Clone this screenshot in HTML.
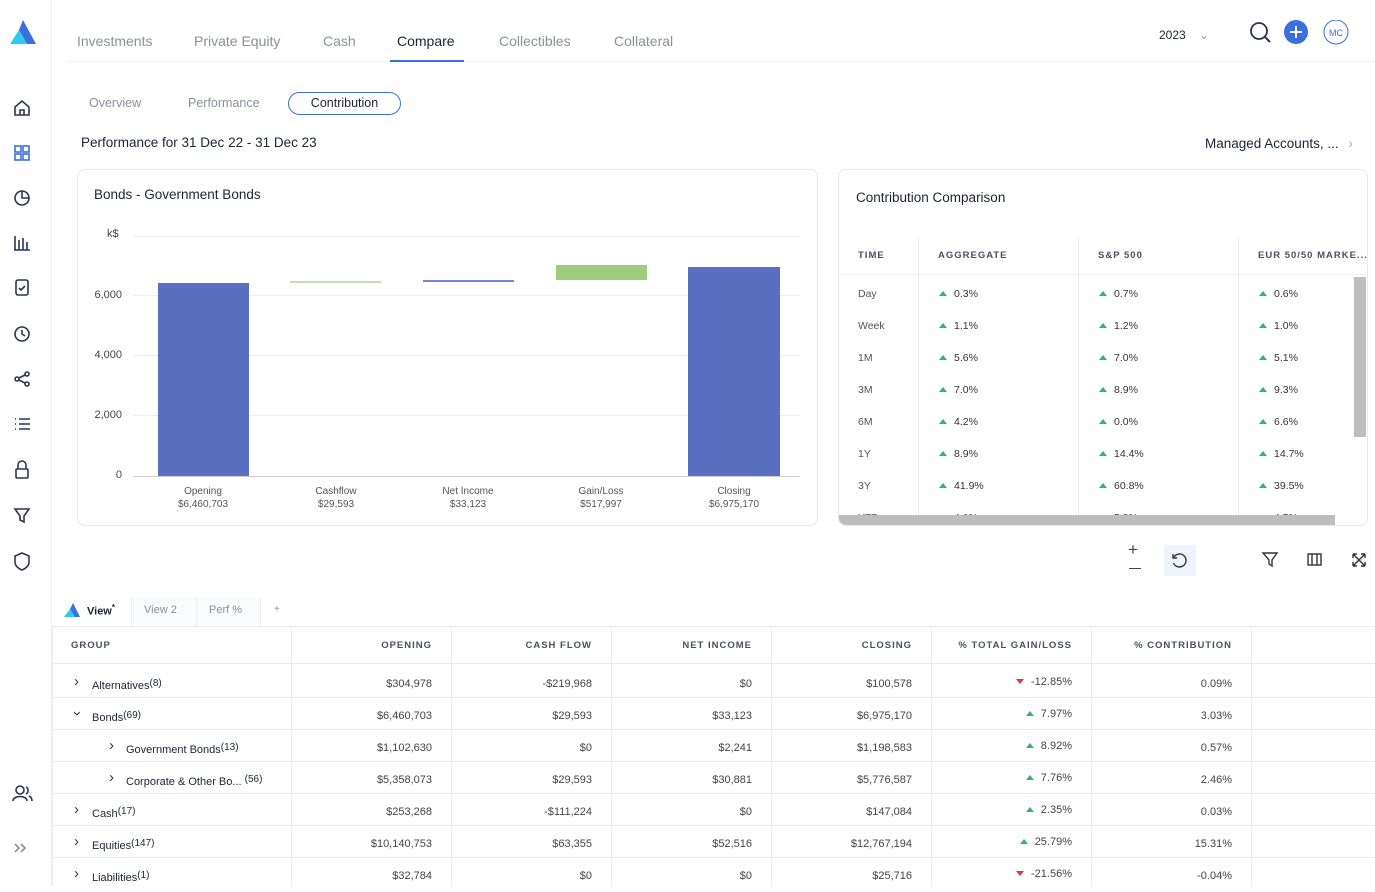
<!DOCTYPE html>
<html><head><meta charset="utf-8"><style>
*{box-sizing:border-box;margin:0;padding:0}
body{width:1375px;height:886px;overflow:hidden;background:#fff;font-family:"Liberation Sans",sans-serif;color:#1c2433;position:relative}
.a{position:absolute;white-space:nowrap}
.tab{font-size:14px;color:#8a8f99;top:33px}
.card{position:absolute;border:1px solid #e6e8ec;border-radius:8px;background:#fff}
.yl{font-size:11px;color:#444;text-align:right;width:40px;left:82px}
.gl{position:absolute;left:133px;width:667px;height:1px;background:#eceef1}
.xl{font-size:10px;color:#555;text-align:center;width:120px;line-height:13px}
.th{font-size:9.5px;font-weight:bold;letter-spacing:1px;color:#4a5060}
.td{font-size:10.5px;color:#333}
.up{display:inline-block;width:0;height:0;border-left:4px solid transparent;border-right:4px solid transparent;border-bottom:5px solid #2dbb6a;margin-right:7px;vertical-align:1px}
.dn{display:inline-block;width:0;height:0;border-left:4px solid transparent;border-right:4px solid transparent;border-top:5px solid #e0383e;margin-right:7px;vertical-align:1px}
.row{position:absolute;left:52px;width:1323px;height:1px;background:#e8eaee}
.vd{position:absolute;width:1px;background:#e8eaee}
.num{font-size:11px;color:#444;text-align:right;width:150px}
.grp{font-size:11px;color:#1c2433}
.grp small{font-size:10px;vertical-align:3px}
.chev{font-size:15px;color:#333}
</style></head><body>
<div class="a" style="left:51px;top:0;width:1px;height:886px;background:#eef0f3"></div>
<svg class="a" style="left:8px;top:18px" width="30" height="28"><polygon points="15,2 28,26 19,26 11,12" fill="#3b6fe0"/><polygon points="11,12 19,26 2,26" fill="#2ec9f0"/></svg>
<svg class="a" style="left:12px;top:98px" width="22" height="480" fill="none" stroke="#2a3550" stroke-width="1.6">
<path d="M3 9 L10 3 L17 9 V17 H3 Z M8 17 V12 H12 V17"/>
<g stroke="#3b6fe0"><rect x="3" y="48" width="6" height="6"/><rect x="11" y="48" width="6" height="6"/><rect x="3" y="56" width="6" height="6"/><rect x="11" y="56" width="6" height="6"/></g>
<circle cx="10" cy="100" r="7"/><path d="M10 93 V100 H17"/>
<path d="M3 152 V138 M7 152 V142 M11 152 V140 M15 152 V144 M2 152 H18"/>
<rect x="4" y="182" width="12" height="15" rx="2"/><path d="M7 190 L9 192 L13 188"/>
<circle cx="10" cy="236" r="7"/><path d="M10 232 V236 L13 238"/>
<circle cx="5" cy="281" r="2"/><circle cx="15" cy="276" r="2"/><circle cx="15" cy="286" r="2"/><path d="M7 280 L13 277 M7 282 L13 285"/>
<path d="M3 321 H4 M7 321 H18 M3 326 H4 M7 326 H18 M3 331 H4 M7 331 H18"/>
<rect x="4" y="371" width="12" height="9" rx="1"/><path d="M6 371 V367 A4 4 0 0 1 14 367 V371"/>
<path d="M3 411 H17 L12 418 V424 L8 422 V418 Z"/>
<path d="M10 455 L17 458 V464 C17 468 13 471 10 472 C7 471 3 468 3 464 V458 Z"/>
</svg>
<svg class="a" style="left:12px;top:784px" width="22" height="80" fill="none" stroke="#2a3550" stroke-width="1.6"><circle cx="8" cy="6" r="4"/><path d="M1 17 C1 11 15 11 15 17 M14 3 A4 4 0 0 1 14 10 M17 12 C19 13 20 15 20 17"/><path d="M3 60 L7 64 L3 68 M9 60 L13 64 L9 68" stroke="#8a8f99"/></svg>
<div class="a tab" style="left:77px">Investments</div>
<div class="a tab" style="left:194px">Private Equity</div>
<div class="a tab" style="left:323px">Cash</div>
<div class="a tab" style="left:397px;color:#1c2433">Compare</div>
<div class="a tab" style="left:499px">Collectibles</div>
<div class="a tab" style="left:614px">Collateral</div>
<div class="a" style="left:69px;top:61px;width:1310px;height:1px;background:#eef0f3"></div>
<div class="a" style="left:390px;top:60px;width:74px;height:2px;background:#3b6fe0"></div>
<div class="a" style="left:1159px;top:28px;font-size:12px">2023 <span style="color:#999;margin-left:10px">⌄</span></div>
<svg class="a" style="left:1248px;top:20px" width="110" height="28"><circle cx="11" cy="11" r="8" fill="none" stroke="#2a3550" stroke-width="1.8"/><path d="M17 17 L22 22" stroke="#2a3550" stroke-width="2"/><circle cx="48" cy="12" r="12" fill="#3b6fe0"/><path d="M48 6 V18 M42 12 H54" stroke="#fff" stroke-width="2"/><circle cx="88" cy="12" r="12" fill="#fff" stroke="#3b6fe0"/><text x="88" y="16" font-size="9" fill="#3b6fe0" text-anchor="middle" font-family="Liberation Sans">MC</text></svg>
<div class="a" style="left:89px;top:96px;font-size:12.5px;color:#8a8f99">Overview</div>
<div class="a" style="left:188px;top:96px;font-size:12.5px;color:#8a8f99">Performance</div>
<div class="a" style="left:288px;top:92px;width:113px;height:23px;border:1px solid #3b6fe0;border-radius:12px;font-size:12.5px;text-align:center;line-height:21px">Contribution</div>
<div class="a" style="left:81px;top:135px;font-size:13.5px">Performance for 31 Dec 22 - 31 Dec 23</div>
<div class="a" style="left:1205px;top:136px;font-size:13.5px">Managed Accounts, ... <span style="color:#aaa;margin-left:6px">›</span></div>
<div class="card" style="left:77px;top:169px;width:741px;height:357px"></div>
<div class="a" style="left:94px;top:187px;font-size:13.5px">Bonds - Government Bonds</div>
<div class="a" style="left:107px;top:228px;font-size:11px;color:#444">k$</div>
<div class="gl" style="top:236px"></div><div class="gl" style="top:295px"></div><div class="gl" style="top:355px"></div><div class="gl" style="top:415px"></div><div class="gl" style="top:476px;background:#ccc"></div>
<div class="a yl" style="top:289px">6,000</div><div class="a yl" style="top:349px">4,000</div><div class="a yl" style="top:409px">2,000</div><div class="a yl" style="top:469px">0</div>
<div class="a" style="left:158px;top:283px;width:91px;height:193px;background:#5a6fc0"></div>
<div class="a" style="left:290px;top:281px;width:91px;height:2px;background:#c5dfb5"></div>
<div class="a" style="left:423px;top:280px;width:91px;height:2px;background:#6f87d6"></div>
<div class="a" style="left:556px;top:265px;width:91px;height:15px;background:#9ccc7c"></div>
<div class="a" style="left:688px;top:267px;width:92px;height:209px;background:#5a6fc0"></div>
<div class="a xl" style="left:143px;top:485px">Opening<br>$6,460,703</div>
<div class="a xl" style="left:276px;top:485px">Cashflow<br>$29,593</div>
<div class="a xl" style="left:408px;top:485px">Net Income<br>$33,123</div>
<div class="a xl" style="left:541px;top:485px">Gain/Loss<br>$517,997</div>
<div class="a xl" style="left:674px;top:485px">Closing<br>$6,975,170</div>
<div class="card" style="left:838px;top:169px;width:530px;height:357px;overflow:hidden">
<div class="a" style="left:17px;top:20px;font-size:13.5px">Contribution Comparison</div>
<div class="a" style="left:0;top:104px;width:530px;height:1px;background:#eef0f3"></div>
<div class="vd" style="left:79px;top:67px;height:290px"></div><div class="vd" style="left:239px;top:67px;height:290px"></div><div class="vd" style="left:399px;top:67px;height:290px"></div>
<div class="a th" style="left:19px;top:80px">TIME</div><div class="a th" style="left:99px;top:80px">AGGREGATE</div><div class="a th" style="left:259px;top:80px">S&amp;P 500</div><div class="a th" style="left:419px;top:80px">EUR 50/50 MARKE...</div>
<div class="a td" style="left:19px;top:108px;line-height:32px;color:#555">Day<br>Week<br>1M<br>3M<br>6M<br>1Y<br>3Y<br>YTD</div>
<div class="a td" style="left:100px;top:108px;line-height:32px"><span class="up"></span>0.3%<br><span class="up"></span>1.1%<br><span class="up"></span>5.6%<br><span class="up"></span>7.0%<br><span class="up"></span>4.2%<br><span class="up"></span>8.9%<br><span class="up"></span>41.9%<br><span class="up"></span>4.1%</div>
<div class="a td" style="left:260px;top:108px;line-height:32px"><span class="up"></span>0.7%<br><span class="up"></span>1.2%<br><span class="up"></span>7.0%<br><span class="up"></span>8.9%<br><span class="up"></span>0.0%<br><span class="up"></span>14.4%<br><span class="up"></span>60.8%<br><span class="up"></span>5.0%</div>
<div class="a td" style="left:420px;top:108px;line-height:32px"><span class="up"></span>0.6%<br><span class="up"></span>1.0%<br><span class="up"></span>5.1%<br><span class="up"></span>9.3%<br><span class="up"></span>6.6%<br><span class="up"></span>14.7%<br><span class="up"></span>39.5%<br><span class="up"></span>4.5%</div>
<div class="a" style="left:515px;top:107px;width:12px;height:160px;background:#bdbdbd"></div>
<div class="a" style="left:0;top:345px;width:530px;height:12px;background:#fff"></div>
<div class="a" style="left:0;top:345px;width:496px;height:12px;background:#bdbdbd"></div>
</div>
<div class="a" style="left:1128px;top:540px;font-size:17px;color:#444">+</div>
<div class="a" style="left:1129px;top:568px;width:12px;height:1px;background:#444"></div>
<div class="a" style="left:1164px;top:545px;width:32px;height:31px;background:#eef4fb"></div>
<svg class="a" style="left:1170px;top:551px" width="20" height="20" fill="none" stroke="#333" stroke-width="1.4"><path d="M4 6 A6.5 6.5 0 1 1 3.5 12"/><path d="M3 3 V7 H7"/></svg>
<svg class="a" style="left:1260px;top:550px" width="110" height="20" fill="none" stroke="#333" stroke-width="1.4"><path d="M3 3 H17 L12 10 V16 L9 14 V10 Z"/><rect x="48" y="4" width="13" height="11"/><path d="M52 4 V15 M57 4 V15"/><path d="M93 4 L105 16 M105 4 L93 16 M93 4 H97 M93 4 V8 M105 16 H101 M105 16 V12 M105 4 H101 M105 4 V8 M93 16 H97 M93 16 V12"/></svg>
<svg class="a" style="left:64px;top:603px" width="16" height="15"><polygon points="9,0 16,14 11,14 6,6" fill="#3b6fe0"/><polygon points="6,6 11,14 0,14" fill="#2ec9f0"/></svg>
<div class="a" style="left:87px;top:603px;font-size:11px;font-weight:bold">View<sup style="font-size:8px">*</sup></div>
<div class="a" style="left:131px;top:597px;width:130px;height:29px;background:#fafbfc;border-left:1px solid #eee"></div>
<div class="a" style="left:196px;top:597px;width:1px;height:29px;background:#eee"></div>
<div class="a" style="left:260px;top:597px;width:1px;height:29px;background:#eee"></div>
<div class="a" style="left:144px;top:604px;font-size:11px;color:#8a8f99">View 2</div>
<div class="a" style="left:209px;top:604px;font-size:11px;color:#8a8f99">Perf %</div>
<div class="a" style="left:274px;top:604px;font-size:10px;color:#8a8f99">+</div>
<div class="row" style="top:626px"></div>
<div class="a" style="left:52px;top:626px;width:1px;height:260px;background:#e8eaee"></div>
<div class="row" style="top:663px"></div><div class="row" style="top:697px"></div><div class="row" style="top:729px"></div><div class="row" style="top:761px"></div><div class="row" style="top:793px"></div><div class="row" style="top:825px"></div><div class="row" style="top:857px"></div>
<div class="vd" style="left:291px;top:626px;height:260px"></div><div class="vd" style="left:451px;top:626px;height:260px"></div><div class="vd" style="left:611px;top:626px;height:260px"></div><div class="vd" style="left:771px;top:626px;height:260px"></div><div class="vd" style="left:931px;top:626px;height:260px"></div><div class="vd" style="left:1091px;top:626px;height:260px"></div><div class="vd" style="left:1251px;top:626px;height:260px"></div>
<div class="a th" style="left:71px;top:640px">GROUP</div>
<div class="a th" style="left:282px;top:640px;width:150px;text-align:right">OPENING</div>
<div class="a th" style="left:442px;top:640px;width:150px;text-align:right">CASH FLOW</div>
<div class="a th" style="left:602px;top:640px;width:150px;text-align:right">NET INCOME</div>
<div class="a th" style="left:762px;top:640px;width:150px;text-align:right">CLOSING</div>
<div class="a th" style="left:922px;top:640px;width:150px;text-align:right">% TOTAL GAIN/LOSS</div>
<div class="a th" style="left:1082px;top:640px;width:150px;text-align:right">% CONTRIBUTION</div>
<div class="a chev" style="left:74px;top:673px">›</div><div class="a grp" style="left:92px;top:678px">Alternatives<small>(8)</small></div>
<div class="a chev" style="left:75px;top:705px;transform:rotate(90deg)">›</div><div class="a grp" style="left:92px;top:710px">Bonds<small>(69)</small></div>
<div class="a chev" style="left:109px;top:737px">›</div><div class="a grp" style="left:126px;top:742px">Government Bonds<small>(13)</small></div>
<div class="a chev" style="left:109px;top:769px">›</div><div class="a grp" style="left:126px;top:774px">Corporate &amp; Other Bo... <small>(56)</small></div>
<div class="a chev" style="left:74px;top:801px">›</div><div class="a grp" style="left:92px;top:806px">Cash<small>(17)</small></div>
<div class="a chev" style="left:74px;top:833px">›</div><div class="a grp" style="left:92px;top:838px">Equities<small>(147)</small></div>
<div class="a chev" style="left:74px;top:865px">›</div><div class="a grp" style="left:92px;top:870px">Liabilities<small>(1)</small></div>
<div class="a num" style="left:282px;top:668px;line-height:32px">$304,978<br>$6,460,703<br>$1,102,630<br>$5,358,073<br>$253,268<br>$10,140,753<br>$32,784</div>
<div class="a num" style="left:442px;top:668px;line-height:32px">-$219,968<br>$29,593<br>$0<br>$29,593<br>-$111,224<br>$63,355<br>$0</div>
<div class="a num" style="left:602px;top:668px;line-height:32px">$0<br>$33,123<br>$2,241<br>$30,881<br>$0<br>$52,516<br>$0</div>
<div class="a num" style="left:762px;top:668px;line-height:32px">$100,578<br>$6,975,170<br>$1,198,583<br>$5,776,587<br>$147,084<br>$12,767,194<br>$25,716</div>
<div class="a num" style="left:922px;top:666px;line-height:32px"><span class="dn"></span>-12.85%<br><span class="up"></span>7.97%<br><span class="up"></span>8.92%<br><span class="up"></span>7.76%<br><span class="up"></span>2.35%<br><span class="up"></span>25.79%<br><span class="dn"></span>-21.56%</div>
<div class="a num" style="left:1082px;top:668px;line-height:32px">0.09%<br>3.03%<br>0.57%<br>2.46%<br>0.03%<br>15.31%<br>-0.04%</div>
</body></html>
